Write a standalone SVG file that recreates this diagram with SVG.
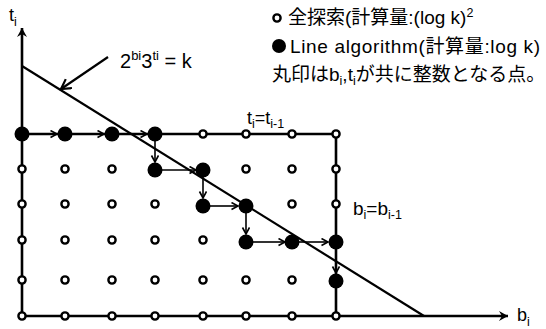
<svg xmlns="http://www.w3.org/2000/svg" width="546" height="329" viewBox="0 0 546 329">
<style>
text{font-family:"Liberation Sans","Noto Sans CJK JP",Arial,sans-serif;fill:#000}
.t{font-size:18px}
.eq{font-size:20px}
.lg{font-size:19px}
.sub{font-size:12.5px}
.sup{font-size:13px}
.ax{stroke:#000;stroke-width:2.6;fill:none}
.ho{fill:#fff;stroke:#000;stroke-width:2.4}
.fi{fill:#000}
.ar{stroke:#000;stroke-width:1.6;fill:none;marker-end:url(#a)}
</style>
<defs>
<marker id="a" markerUnits="userSpaceOnUse" markerWidth="10" markerHeight="10" refX="7" refY="4" orient="auto">
<path d="M0.5,0.5 L7,4 L0.5,7.5" fill="none" stroke="#000" stroke-width="1.6"/>
</marker>
<marker id="ax" markerUnits="userSpaceOnUse" markerWidth="12" markerHeight="12" refX="9" refY="5" orient="auto">
<path d="M0,0 L9,5 L0,10 L3,5 Z" fill="#000"/>
</marker>
<marker id="pa" markerUnits="userSpaceOnUse" markerWidth="14" markerHeight="14" refX="10" refY="6" orient="auto">
<path d="M0.5,0.5 L10,6 L0.5,11.5" fill="none" stroke="#000" stroke-width="2.2"/>
</marker>
</defs>

<g id="axes">
<path class="ax" d="M22,316 L22,28" marker-end="url(#ax)"/>
<path class="ax" d="M22,316 L508,316" marker-end="url(#ax)"/>
<text class="t" x="9" y="21">t<tspan class="sub" dy="5">i</tspan></text>
<text class="t" x="517" y="321">b<tspan class="sub" dy="5">i</tspan></text>
</g>

<g id="connectors">
<path class="ax" d="M22,134 L336,134 L336,316"/>
<path d="M22,66 L424,316" stroke="#000" stroke-width="2.2" fill="none"/>
<path d="M108,57 L61,89" stroke="#000" stroke-width="2.2" fill="none" marker-end="url(#pa)"/>
<path class="ar" d="M29,134 L57,134"/>
<path class="ar" d="M72,134 L104,134"/>
<path class="ar" d="M119,134 L147,134"/>
<path class="ar" d="M155,141 L155,162"/>
<path class="ar" d="M162,170 L196,170"/>
<path class="ar" d="M203,177 L203,198"/>
<path class="ar" d="M210,206 L238,206"/>
<path class="ar" d="M246,213 L246,234"/>
<path class="ar" d="M253,242 L285,242"/>
<path class="ar" d="M299,242 L328,242"/>
<path class="ar" d="M336,249 L336,273"/>
</g>

<g id="hollow-points">
<circle class="ho" cx="203" cy="134" r="3.6"/><circle class="ho" cx="246" cy="134" r="3.6"/><circle class="ho" cx="292" cy="134" r="3.6"/><circle class="ho" cx="336" cy="134" r="3.6"/>
<circle class="ho" cx="22" cy="169" r="3.6"/><circle class="ho" cx="65" cy="169" r="3.6"/><circle class="ho" cx="112" cy="169" r="3.6"/><circle class="ho" cx="246" cy="169" r="3.6"/><circle class="ho" cx="292" cy="169" r="3.6"/><circle class="ho" cx="336" cy="169" r="3.6"/>
<circle class="ho" cx="22" cy="204" r="3.6"/><circle class="ho" cx="65" cy="204" r="3.6"/><circle class="ho" cx="112" cy="204" r="3.6"/><circle class="ho" cx="155" cy="204" r="3.6"/><circle class="ho" cx="292" cy="204" r="3.6"/><circle class="ho" cx="336" cy="204" r="3.6"/>
<circle class="ho" cx="22" cy="240" r="3.6"/><circle class="ho" cx="65" cy="240" r="3.6"/><circle class="ho" cx="112" cy="240" r="3.6"/><circle class="ho" cx="155" cy="240" r="3.6"/><circle class="ho" cx="203" cy="240" r="3.6"/>
<circle class="ho" cx="22" cy="280" r="3.6"/><circle class="ho" cx="65" cy="280" r="3.6"/><circle class="ho" cx="112" cy="280" r="3.6"/><circle class="ho" cx="155" cy="280" r="3.6"/><circle class="ho" cx="203" cy="280" r="3.6"/><circle class="ho" cx="246" cy="280" r="3.6"/><circle class="ho" cx="292" cy="280" r="3.6"/>
<circle class="ho" cx="22" cy="316" r="3.6"/><circle class="ho" cx="65" cy="316" r="3.6"/><circle class="ho" cx="112" cy="316" r="3.6"/><circle class="ho" cx="155" cy="316" r="3.6"/><circle class="ho" cx="203" cy="316" r="3.6"/><circle class="ho" cx="246" cy="316" r="3.6"/><circle class="ho" cx="292" cy="316" r="3.6"/><circle class="ho" cx="336" cy="316" r="3.6"/>
</g>

<g id="line-points">
<circle class="fi" cx="22" cy="134" r="7.5"/><circle class="fi" cx="65" cy="134" r="7.5"/><circle class="fi" cx="112" cy="134" r="7.5"/><circle class="fi" cx="155" cy="134" r="7.5"/>
<circle class="fi" cx="155" cy="170" r="7.5"/><circle class="fi" cx="203" cy="170" r="7.5"/>
<circle class="fi" cx="203" cy="206" r="7.5"/><circle class="fi" cx="246" cy="206" r="7.5"/>
<circle class="fi" cx="246" cy="242" r="7.5"/><circle class="fi" cx="292" cy="242" r="7.5"/><circle class="fi" cx="336" cy="242" r="7.5"/>
<circle class="fi" cx="336" cy="281" r="7.5"/>
</g>

<g id="labels">
<text class="eq" x="120" y="68">2<tspan class="sup" dy="-8">bi</tspan><tspan dy="8">3</tspan><tspan class="sup" dy="-8">ti</tspan><tspan dy="8"> = k</tspan></text>
<text class="t" x="247" y="124">t<tspan class="sub" dy="4">i</tspan><tspan dy="-4">=t</tspan><tspan class="sub" dy="4">i-1</tspan></text>
<text class="t" x="353" y="215" style="font-size:19px">b<tspan class="sub" dy="4">i</tspan><tspan dy="-4">=b</tspan><tspan class="sub" dy="4">i-1</tspan></text>
</g>

<g id="legend">
<circle class="ho" cx="277" cy="18" r="3.6"/>
<text class="lg" x="288" y="24">全探索(計算量:(log k)<tspan class="sub" dy="-7">2</tspan></text>
<circle class="fi" cx="279" cy="46" r="7"/>
<text class="lg" x="290" y="53" textLength="250">Line algorithm(計算量:log k)</text>
<text class="lg" x="272" y="81">丸印はb<tspan class="sub" dy="4">i</tspan><tspan dy="-4">,t</tspan><tspan class="sub" dy="4">i</tspan><tspan dy="-4">が共に整数となる点。</tspan></text>
</g>
</svg>
